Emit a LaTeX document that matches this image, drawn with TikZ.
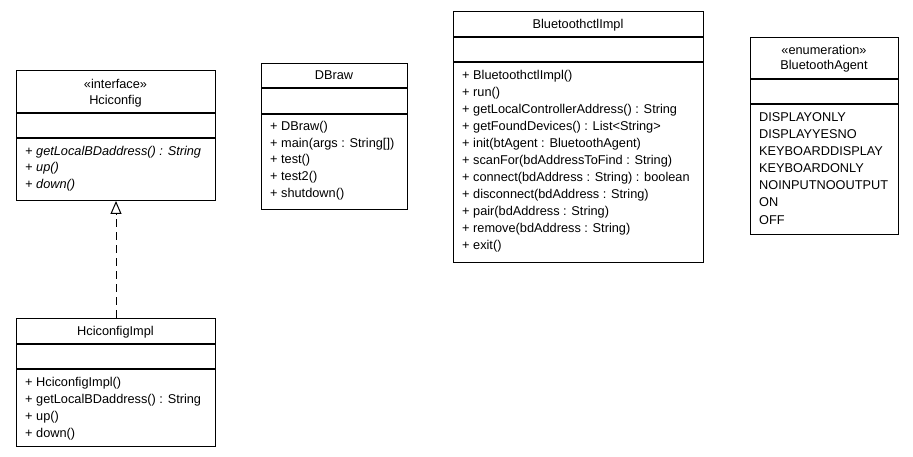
\documentclass[tikz,border=0pt]{standalone}
\usepackage{fontspec}
\setmainfont{Liberation Sans}
\usetikzlibrary{arrows.meta}
\begin{document}
\begin{tikzpicture}[x=1bp,y=-1bp,
  every node/.style={font=\fontsize{12.8}{15}\selectfont},
  classbox/.style={draw=black, fill=white, line width=1bp, anchor=north west, inner sep=0pt},
  shadowbox/.style={fill=black!35, draw=none, anchor=north west, inner sep=0pt},
  sepline/.style={line width=1.2bp},
  title/.style={anchor=center, inner sep=0pt, text height=9bp, text depth=0pt},
  op/.style={anchor=west, inner sep=0pt, text height=9bp, text depth=0pt},
  realize/.style={line width=1bp, dash pattern=on 8bp off 5bp, -{Triangle[open, length=13bp, width=11bp, line width=1bp]}}]
\useasboundingbox (0,0) rectangle (913,457);
\fill[white] (0,0) rectangle (913,457);

% ---- Hciconfig
\node[shadowbox, minimum width=199bp, minimum height=130bp] (hcish) at (17.2,71.2) {};
\node[classbox, minimum width=199bp, minimum height=130bp] (hci) at (16,70) {};
\draw[sepline] (16,113) -- (215,113);
\draw[sepline] (16,138) -- (215,138);
\node[title] (hci-st) at (115.5,84) {«interface»};
\node[title] (hci-t) at (115.5,100) {Hciconfig};
\foreach \t [count=\i from 0] in {{+ getLocalBDaddress() : String},{+ up()},{+ down()}}
  \node[op, font=\fontsize{12.8}{15}\selectfont\itshape] (hci-op\i) at (25,151+16.3*\i) {\t};

% ---- HciconfigImpl
\node[shadowbox, minimum width=199bp, minimum height=128bp] (implsh) at (17.2,319.2) {};
\node[classbox, minimum width=199bp, minimum height=128bp] (impl) at (16,318) {};
\draw[sepline] (16,344) -- (215,344);
\draw[sepline] (16,369) -- (215,369);
\node[title] (impl-t) at (115.5,331) {HciconfigImpl};
\foreach \t [count=\i from 0] in {{+ HciconfigImpl()},{+ getLocalBDaddress() : String},{+ up()},{+ down()}}
  \node[op] (impl-op\i) at (25,382+17*\i) {\t};

% ---- DBraw
\node[shadowbox, minimum width=146bp, minimum height=146bp] (dbsh) at (262.2,64.2) {};
\node[classbox, minimum width=146bp, minimum height=146bp] (db) at (261,63) {};
\draw[sepline] (261,88) -- (407,88);
\draw[sepline] (261,114) -- (407,114);
\node[title] (db-t) at (334,75.5) {DBraw};
\foreach \t [count=\i from 0] in {{+ DBraw()},{+ main(args : String[])},{+ test()},{+ test2()},{+ shutdown()}}
  \node[op] (db-op\i) at (270,126+16.7*\i) {\t};

% ---- BluetoothctlImpl
\node[shadowbox, minimum width=250bp, minimum height=251bp] (btsh) at (454.2,12.2) {};
\node[classbox, minimum width=250bp, minimum height=251bp] (bt) at (453,11) {};
\draw[sepline] (453,37) -- (703,37);
\draw[sepline] (453,62) -- (703,62);
\node[title] (bt-t) at (578,24) {BluetoothctlImpl};
\foreach \t [count=\i from 0] in {{+ BluetoothctlImpl()},{+ run()},{+ getLocalControllerAddress() : String},{+ getFoundDevices() : List<String>},{+ init(btAgent : BluetoothAgent)},{+ scanFor(bdAddressToFind : String)},{+ connect(bdAddress : String) : boolean},{+ disconnect(bdAddress : String)},{+ pair(bdAddress : String)},{+ remove(bdAddress : String)},{+ exit()}}
  \node[op] (bt-op\i) at (462,75+17*\i) {\t};

% ---- BluetoothAgent
\node[shadowbox, minimum width=148bp, minimum height=197bp] (agsh) at (751.2,38.2) {};
\node[classbox, minimum width=148bp, minimum height=197bp] (ag) at (750,37) {};
\draw[sepline] (750,79) -- (898,79);
\draw[sepline] (750,104) -- (898,104);
\node[title] (ag-st) at (824,50.5) {«enumeration»};
\node[title] (ag-t) at (824,65.5) {BluetoothAgent};
\foreach \t [count=\i from 0] in {DISPLAYONLY,DISPLAYYESNO,KEYBOARDDISPLAY,KEYBOARDONLY,NOINPUTNOOUTPUT,ON,OFF}
  \node[op] (ag-op\i) at (759,117+17.1*\i) {\t};

% ---- realization
\draw[realize] (impl.north) -- (hci.south);
\end{tikzpicture}
\end{document}
